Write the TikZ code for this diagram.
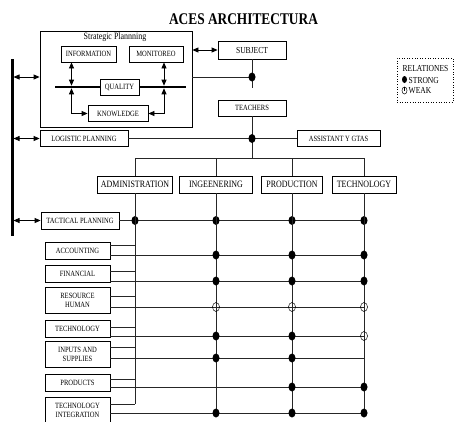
\documentclass[tikz,border=0pt]{standalone}
\usepackage{fontspec}
\setmainfont[FakeStretch=0.82]{Liberation Serif}
\usetikzlibrary{arrows.meta,shapes.geometric}

\tikzset{
  box/.style={draw, line width=0.8pt, inner sep=1pt, align=center, font=\fontsize{8}{8.8}\selectfont},
  deptbox/.style={box, minimum height=17pt, font=\fontsize{9.7}{10}\selectfont},
  leftbox/.style={box, minimum width=65pt},
  txt/.style={inner sep=0pt, anchor=west, font=\fontsize{9.2}{10}\selectfont},
  link/.style={line width=0.7pt, black!85},
  dbl/.style={line width=0.8pt, arrows={Triangle[length=6pt,width=5pt]-Triangle[length=6pt,width=5pt]}},
  strong/.style={ellipse, fill, inner sep=0pt, minimum width=7pt, minimum height=9pt},
  weak/.style={ellipse, draw, line width=0.5pt, inner sep=0pt, minimum width=7pt, minimum height=9pt},
}

\begin{document}
\begin{tikzpicture}[x=1pt,y=-1pt]
\useasboundingbox (0,0) rectangle (455,421);

\node[font=\bfseries\fontsize{16.3}{18}\selectfont] (title) at (243.5,19) {ACES ARCHITECTURA};

% strategic planning
\node[box, minimum width=152pt, minimum height=96pt] (strat) at (116,79) {};
\node[font=\fontsize{9.7}{10}\selectfont, inner sep=0pt] (stratlbl) at (115,37.5) {Strategic Plannning};
\node[box, minimum width=55pt, minimum height=16pt] (inf) at (88.5,54) {INFORMATION};
\node[box, minimum width=54pt, minimum height=16pt] (mon) at (156,54) {MONITOREO};
\node[box, minimum width=39pt, minimum height=16pt] (qua) at (119.5,87) {QUALITY};
\node[box, minimum width=60pt, minimum height=16pt] (kno) at (118,113.5) {KNOWLEDGE};

\coordinate (thl) at (55,87);
\coordinate (thr) at (186,87);
\coordinate (ql) at (71.5,87);
\coordinate (qr) at (164,87);
\draw[line width=2.6pt] (thl) -- (qua) -- (thr);
\draw[dbl, shorten >=1.3pt] (inf.south -| ql) -- (ql);
\draw[dbl, shorten <=1.3pt] (ql) |- (kno.west);
\draw[dbl, shorten >=1.3pt] (mon.south -| qr) -- (qr);
\draw[dbl, shorten <=1.3pt] (qr) |- (kno.east);

% subject and teachers
\node[box, minimum width=68pt, minimum height=18pt, font=\fontsize{9.2}{10}\selectfont] (sub) at (252,50) {SUBJECT};
\node[box, minimum width=68pt, minimum height=16pt] (tea) at (252,108) {TEACHERS};
\node[box, minimum width=83pt, minimum height=16pt] (asg) at (338.5,138.5) {ASSISTANT Y GTAS};
\node[box, minimum width=88pt, minimum height=16pt] (log) at (84,138.5) {LOGISTIC PLANNING};

\draw[dbl] (strat.east |- sub.west) -- (sub.west);
\coordinate (subend) at (252,88);
\draw[link] (sub) -- (subend);
\draw[link] (strat.east |- 0,77) -- (sub |- 0,77);
\node[strong] (dsub) at (sub |- 0,77) {};

% left bar
\coordinate (bartop) at (12,59);
\coordinate (barbot) at (12,236);
\coordinate (barr) at (13.5,59);
\draw[line width=3pt] (bartop) -- (barbot);
\draw[dbl] (barr |- 0,77) -- (strat.west |- 0,77);
\draw[dbl] (barr |- log.west) -- (log.west);

% departments
\node[deptbox, minimum width=75pt] (adm) at (135,184.5) {ADMINISTRATION};
\node[deptbox, minimum width=73pt] (ing) at (216,184.5) {INGEENERING};
\node[deptbox, minimum width=61pt] (prd) at (292,184.5) {PRODUCTION};
\node[deptbox, minimum width=64pt] (tec) at (364,184.5) {TECHNOLOGY};

\coordinate (br) at (0,158);
\draw[link] (adm.north) -- (adm.north |- br) -- (tec.north |- br) -- (tec.north);
\draw[link] (ing.north) -- (ing.north |- br);
\draw[link] (prd.north) -- (prd.north |- br);
\draw[link] (tea) -- (tea.south |- br);
\draw[link] (log) -- (asg);
\node[strong] (dtea) at (tea |- log) {};

% tactical planning
\node[box, minimum width=78pt, minimum height=17pt] (tac) at (80,220.5) {TACTICAL PLANNING};
\draw[dbl] (barr |- tac.west) -- (tac.west);
\draw[link] (tac) -- (tec |- tac);
\foreach \c in {adm,ing,prd,tec}
  \node[strong] (dtac-\c) at (\c |- tac) {};

\coordinate (admend) at (135,404);
\coordinate (colend) at (0,413);
\draw[link] (adm) -- (admend);
\foreach \c in {ing,prd,tec}
  \draw[link] (\c) -- (\c |- colend);

% areas
\foreach \n/\t/\yc/\h/\yu/\yl in {
  acc/ACCOUNTING/250.5/17/245/255,
  fin/FINANCIAL/273.5/17/271/281,
  res/{RESOURCE\\HUMAN}/300/26/296/307,
  tcn/TECHNOLOGY/328.5/17/327/336,
  inp/{INPUTS AND\\SUPPLIES}/354/26/347/358,
  pro/PRODUCTS/382.5/17/379/387,
  tin/{TECHNOLOGY\\INTEGRATION}/410/26/404/413}
{
  \node[leftbox, minimum height=\h pt] (\n) at (77.5,\yc) {\t};
  \draw[link] (\n.east |- 0,\yu) -- (adm |- 0,\yu);
  \draw[link] (\n.east |- 0,\yl) -- (tec |- 0,\yl);
}

% relations
\foreach \c/\y in {ing/255,prd/255,tec/255, ing/281,prd/281,tec/281,
                   ing/336,prd/336, ing/358,prd/358, prd/387,tec/387,
                   ing/413,prd/413,tec/413}
  \node[strong] (d-\c-\y) at (\c |- 0,\y) {};
\foreach \c/\y in {ing/307,prd/307,tec/307,tec/336}
  \node[weak] (w-\c-\y) at (\c |- 0,\y) {};

% legend
\node[draw, dotted, line width=0.6pt, minimum width=56pt, minimum height=44pt] (legend) at (425,80) {};
\node[txt] (relt) at (402.5,68) {RELATIONES};
\node[strong, minimum width=5pt, minimum height=7pt] (lstr) at (404.5,79.5) {};
\node[txt] (strt) at (408.5,80) {STRONG};
\node[weak, minimum width=5pt, minimum height=7pt] (lwk) at (404.5,90.5) {};
\draw[line width=0.4pt] (lwk.north) -- (lwk.center);
\node[txt] (wkt) at (408.5,91) {WEAK};
\end{tikzpicture}
\end{document}
